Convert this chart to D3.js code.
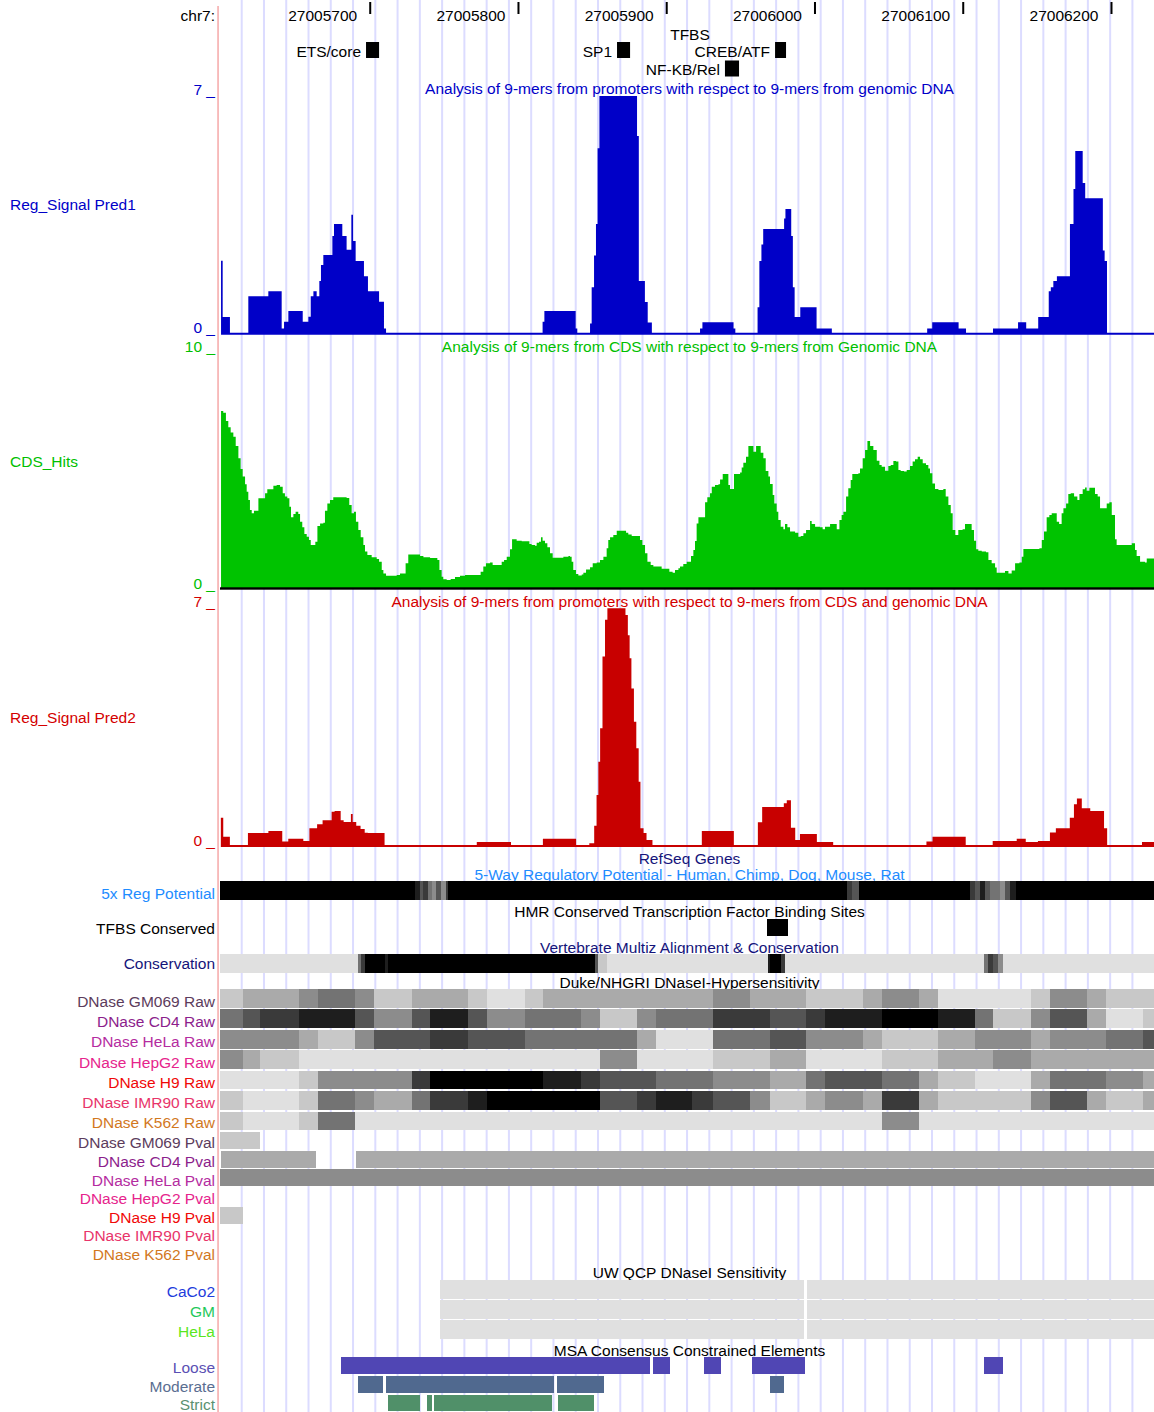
<!DOCTYPE html>
<html><head><meta charset="utf-8">
<script src="https://cdn.jsdelivr.net/npm/d3@7"></script>
<style>
body{margin:0;background:#fff}
svg text{font-family:"Liberation Sans",Arial,Helvetica,sans-serif;font-size:15.5px}
</style>
</head><body>
<svg id="c" width="1154" height="1412"></svg>
<script>
// ---------------- DATA ----------------
const chromName = "chr7";
const viewStart = 27005598, viewEnd = 27006228;          // genomic window
const rulerTicks = [27005700, 27005800, 27005900, 27006000, 27006100, 27006200];
const guideFirst = 14.64, guideStep = 15.02;              // bp offsets of guide lines

// TFBS track (offsets from viewStart, bp)
const tfbsNames = ["ETS/core", "SP1", "CREB/ATF", "NF-KB/Rel"];
const tfbsStart = [98.5, 267.8, 374.4, 340.6];
const tfbsEnd   = [107.3, 276.6, 381.8, 350.1];
const tfbsRow   = [0, 0, 0, 1];

// Wiggle tracks: [offset, value] steps
const pred1Steps = [[0.7,2.15],[1.8,0.49],[6.7,0],[19.1,1.1],[32.6,1.25],[41.6,0.15],[43.2,0.35],[46.1,0.67],[55.8,0.35],[59.6,0.5],[61.2,1.1],[63.0,1.25],[65.2,1.1],[67.0,1.55],[68.1,2.02],[69.7,2.32],[75.8,2.88],[76.9,3.23],[82.5,2.88],[85.4,2.47],[88.6,3.5],[89.7,2.73],[91.5,2.14],[97.1,1.69],[99.8,1.25],[107.3,0.94],[110.6,0.15],[112.0,0],[217.6,0.35],[218.8,0.67],[239.9,0.15],[241.0,0],[249.6,0.3],[250.7,1.37],[252.3,2.3],[253.6,3.23],[254.7,5.46],[255.9,7],[281.3,5.82],[282.5,1.55],[286.6,0.93],[288.5,0.33],[291.3,0],[323.8,0.15],[325.4,0.34],[346.4,0.15],[347.6,0],[362.6,0.78],[363.8,2.14],[365.2,2.63],[366.4,3.08],[380.5,3.39],[381.4,3.67],[385.3,2.88],[386.4,1.37],[387.6,0.49],[391.4,0.78],[402.4,0.15],[412.7,0],[477.0,0.15],[480.4,0.34],[498.2,0.15],[503.2,0],[521.4,0.15],[538.3,0.34],[543.8,0.15],[551.9,0.49],[559.0,1.25],[560.4,1.37],[562.1,1.55],[564.5,1.69],[573.3,3.23],[575.7,4.26],[576.9,5.38],[581.9,4.44],[583.6,3.99],[595.5,2.45],[596.7,2.14],[598.3,0],[630,0]];

const cdsSteps = [[0.7,7.53],[2.2,7.46],[4.0,7.11],[5.6,6.84],[7.2,6.62],[9.0,6.44],[10.6,6.04],[12.4,5.52],[13.9,5.06],[15.3,4.74],[16.9,4.41],[18.0,4.10],[19.1,3.74],[20.2,3.32],[21.4,3.18],[22.9,3.29],[25.9,3.82],[30.4,4.03],[31.9,4.20],[36.0,4.35],[38.2,4.38],[40.5,4.31],[42.3,4.03],[43.8,3.89],[45.4,3.82],[46.8,3.46],[47.9,3.01],[49.5,3.15],[51.0,3.25],[52.8,3.15],[54.0,2.82],[55.5,2.58],[56.9,2.30],[58.5,2.18],[60.0,2.04],[61.2,1.83],[64.3,1.97],[65.7,2.64],[67.5,2.75],[69.7,2.78],[70.8,3.29],[72.4,3.60],[74.2,3.74],[76.4,3.86],[85.4,3.83],[87.2,3.53],[88.8,3.18],[90.4,3.25],[91.7,2.82],[93.3,2.47],[94.9,2.16],[96.7,1.83],[97.8,1.55],[99.4,1.40],[102.3,1.31],[105.7,1.23],[107.3,1.12],[109.1,0.77],[110.2,0.62],[112.0,0.52],[119.2,0.55],[121.4,0.62],[125.2,1.05],[127.0,1.43],[134.9,1.36],[137.2,1.31],[141.7,1.28],[146.6,1.19],[148.0,0.77],[149.5,0.48],[150.6,0.37],[152.9,0.34],[155.6,0.38],[158.5,0.47],[161.9,0.52],[165.3,0.55],[175.8,0.69],[177.6,0.91],[179.4,1.05],[182.1,1.08],[183.9,0.98],[190.0,1.12],[191.6,1.19],[193.4,1.33],[195.6,1.65],[197.0,2.07],[200.1,2.01],[203.5,1.99],[208.7,1.87],[210.2,1.83],[212.5,1.80],[213.6,1.93],[215.2,1.97],[216.5,2.16],[217.6,2.01],[219.2,1.90],[220.8,1.73],[222.6,1.48],[224.4,1.29],[231.6,1.33],[235.0,1.36],[236.1,1.33],[237.2,1.12],[238.3,0.77],[240.1,0.60],[241.7,0.53],[244.0,0.57],[245.1,0.65],[246.9,0.79],[249.6,0.88],[251.4,1.05],[254.1,1.08],[256.3,1.19],[258.6,1.33],[260.8,1.69],[261.9,2.04],[263.1,2.16],[265.3,2.26],[267.6,2.44],[273.9,2.35],[275.4,2.28],[277.7,2.21],[283.3,2.04],[284.9,1.83],[286.7,1.48],[288.3,1.12],[290.5,0.98],[292.3,0.91],[297.9,0.82],[303.1,0.69],[305.3,0.65],[306.9,0.77],[309.2,0.84],[310.3,0.91],[312.5,1.02],[314.8,1.12],[317.7,1.36],[319.3,1.62],[320.4,2.00],[321.5,2.75],[322.7,3.01],[327.2,3.65],[328.7,3.86],[330.5,4.03],[331.7,4.31],[333.9,4.38],[336.2,4.41],[337.3,4.62],[339.1,4.85],[342.9,4.38],[344.0,4.21],[346.7,4.85],[350.8,4.91],[351.9,5.13],[353.0,5.33],[354.8,5.59],[356.4,6.04],[359.8,5.80],[361.6,6.04],[364.7,5.76],[366.5,5.52],[368.1,4.98],[369.9,4.74],[371.0,4.43],[372.8,3.96],[373.9,3.60],[375.5,3.25],[376.6,2.89],[378.2,2.61],[380.0,2.50],[381.1,2.72],[382.7,2.58],[384.5,2.40],[387.9,2.35],[390.1,2.18],[391.7,2.21],[393.5,2.33],[395.3,2.47],[398.0,2.85],[399.1,2.72],[401.4,2.61],[404.7,2.58],[406.5,2.50],[408.1,2.61],[411.5,2.72],[416.0,2.50],[417.8,2.89],[419.3,3.11],[420.5,3.25],[422.3,3.89],[423.8,4.24],[425.4,4.60],[426.5,4.85],[430.6,4.88],[431.7,5.09],[433.5,5.52],[435.1,5.87],[436.7,6.26],[438.5,6.04],[440.7,5.87],[443.0,5.42],[444.8,5.23],[446.3,5.16],[448.6,4.99],[450.8,5.19],[452.4,5.23],[454.2,5.40],[456.0,5.38],[457.6,5.02],[459.1,4.98],[461.4,4.96],[463.2,5.02],[465.4,5.19],[467.2,5.38],[468.8,5.48],[470.6,5.59],[472.2,5.48],[474.0,5.31],[476.2,5.23],[477.8,5.09],[478.9,4.88],[480.5,4.45],[482.3,4.21],[484.6,4.17],[487.9,4.21],[489.5,3.89],[491.3,3.53],[492.9,3.18],[494.2,2.47],[496.0,2.26],[498.0,2.47],[500.9,2.50],[502.5,2.72],[507.0,2.47],[508.6,2.01],[510.0,1.65],[511.5,1.59],[513.8,1.55],[516.7,1.52],[518.3,1.19],[520.5,1.05],[522.8,0.87],[523.9,0.65],[529.5,0.72],[531.8,0.62],[534.0,0.74],[536.3,1.05],[539.2,1.08],[540.8,1.33],[541.9,1.66],[552.7,1.69],[554.3,2.04],[555.8,2.40],[557.6,3.01],[559.4,3.11],[561.0,3.18],[564.4,2.82],[566.0,2.72],[567.7,3.18],[568.9,3.39],[570.7,3.60],[572.2,4.00],[573.8,4.03],[576.1,3.89],[578.3,3.74],[579.7,4.00],[581.9,4.20],[583.5,4.28],[584.6,4.14],[586.4,4.27],[590.2,4.00],[592.0,3.89],[593.6,3.39],[598.1,3.60],[599.9,3.65],[601.5,3.11],[603.7,2.07],[604.8,1.83],[615.0,1.90],[617.2,1.62],[618.3,1.36],[620.6,1.12],[623.9,1.08],[625.1,1.26],[630,1.26]];

const pred2Steps = [[0.57,0.83],[2.19,0.27],[6.66,0],[18.84,0.38],[32.65,0.44],[41.99,0.13],[46.05,0.21],[56.2,0.15],[60.3,0.52],[65.5,0.64],[69.2,0.76],[75.3,1.01],[77.3,1.03],[81.4,0.76],[83.4,0.71],[88.3,0.94],[89.5,0.71],[91.9,0.60],[94.8,0.50],[97.6,0.39],[99.7,0.38],[111.0,0],[173.2,0.12],[196.3,0],[217.8,0.21],[240.2,0],[249.1,0.08],[252.4,0.60],[254.0,1.5],[255.2,2.48],[256.4,3.47],[258.0,5.58],[259.7,6.66],[261.3,7],[273.5,6.80],[275.1,6.21],[276.3,5.53],[277.5,4.64],[279.2,3.66],[280.8,2.88],[282.4,1.89],[283.6,0.52],[285.7,0.38],[287.7,0.18],[291.7,0],[325.0,0.44],[346.6,0],[362.8,0.70],[365.7,1.15],[380.3,1.26],[382.3,1.35],[385.1,0.54],[388.0,0.18],[391.2,0.35],[402.6,0.12],[413.6,0],[476.5,0.13],[480.6,0.27],[503.0,0],[521.2,0.15],[537.4,0.21],[543.5,0.12],[551.7,0.15],[559.8,0.40],[563.8,0.52],[573.2,0.83],[576.0,1.23],[578.0,1.40],[581.3,1.11],[587.0,1.03],[596.3,0.52],[598.4,0],[621.9,0.12],[630,0.12]];

// Density tracks: [start, end, level 1..9]
const regPotSegs = [[0,131.5,9],[131.5,134.9,8],[134.9,136.9,6],[136.9,140.3,7],[140.3,143.0,5],[143.0,145.7,4],[145.7,149.1,6],[149.1,152.4,4],[152.4,153.8,7],[153.8,422.9,9],[422.9,426.3,7],[426.3,431.0,6],[431.0,505.9,9],[505.9,509.3,7],[509.3,512.6,6],[512.6,516.0,8],[516.0,519.4,6],[519.4,526.1,5],[526.1,529.5,4],[529.5,532.9,6],[532.9,536.9,8],[536.9,630,9]];
const hmrTfbs = [[369.0, 383.1]];
const consSegs = [[0,93.1,1],[93.1,95.1,5],[95.1,97.8,7],[97.8,111.3,9],[111.3,113.3,8],[113.3,252.9,9],[252.9,255.0,6],[255.0,261.0,2],[261.0,369.6,1],[369.6,371.0,8],[371.0,378.4,9],[378.4,381.0,7],[381.0,515.3,1],[515.3,518.0,5],[518.0,521.4,7],[521.4,524.8,6],[524.8,528.2,4],[528.2,630,1]];

// Duke DNase raw: common window bounds + level per window
const dnaseBounds = [0,15.3,27.0,53.3,66.1,91.1,103.9,129.5,141.7,167.3,180.1,205.7,217.9,243.5,256.3,281.3,294.1,318.4,332.5,357.5,371.0,395.3,408.1,433.7,446.5,471.5,484.3,509.3,521.4,547.0,559.9,584.8,597.6,622.6,630];
const dnaseRawNames = ["DNase GM069 Raw","DNase CD4 Raw","DNase HeLa Raw","DNase HepG2 Raw","DNase H9 Raw","DNase IMR90 Raw","DNase K562 Raw"];
const rawGM069 = [2,3,3,4,5,4,2,3,3,2,1,2,3,3,3,3,3,3,4,3,3,2,2,3,4,3,1,1,1,2,4,3,2,2];
const rawCD4   = [5,6,7,8,8,6,4,6,8,6,4,5,5,4,2,4,5,5,7,7,6,7,8,8,9,9,8,5,2,4,6,3,1,2];
const rawHeLa  = [4,4,4,3,2,4,6,6,7,6,6,5,5,5,5,3,1,1,5,5,6,4,4,3,2,2,3,4,4,3,4,4,5,6];
const rawHepG2 = [4,3,2,1,1,1,1,1,1,1,1,1,1,1,4,1,1,1,2,2,3,1,1,1,2,2,3,3,4,3,3,3,3,3];
const rawH9    = [1,1,1,2,4,4,4,7,9,9,9,9,8,7,6,6,5,5,4,4,3,5,6,6,5,3,2,1,1,3,5,5,4,3];
const rawIMR90 = [2,1,1,2,5,4,3,5,7,8,9,9,9,9,6,7,8,7,6,4,2,3,4,3,7,3,2,2,2,4,6,3,2,3];
const rawK562  = [2,1,1,2,5,1,1,1,1,1,1,1,1,1,1,1,1,1,1,1,1,1,1,1,4,1,1,1,1,1,1,1,1,1];
const dnasePvalNames = ["DNase GM069 Pval","DNase CD4 Pval","DNase HeLa Pval","DNase HepG2 Pval","DNase H9 Pval","DNase IMR90 Pval","DNase K562 Pval"];
const pvalGM069 = [[0,27.0,2]];
const pvalCD4   = [[0.7,64.8,3],[91.7,630,3]];
const pvalHeLa  = [[0,630,4]];
const pvalHepG2 = [];
const pvalH9    = [[0,15.3,2]];
const pvalIMR90 = [];
const pvalK562  = [];

// UW QCP DNaseI sensitivity
const uwNames = ["CaCo2","GM","HeLa"];
const uwCaCo2 = [[148.4,393.9],[395.9,630]];
const uwGM    = [[148.4,393.9],[395.9,630]];
const uwHeLa  = [[148.4,393.9],[395.9,630]];

// MSA consensus constrained elements
const msaNames = ["Loose","Moderate","Strict"];
const msaLoose    = [[81.6,290.0],[292.1,303.5],[326.5,338.0],[358.9,394.6],[515.3,528.2]];
const msaModerate = [[93.1,110.0],[112.0,225.3],[227.3,259.0],[371.0,380.4]];
const msaStrict   = [[113.3,134.9],[139.6,143.0],[144.4,223.9],[228.0,252.3]];

// ---------------- DRAW ----------------
const W = 1154, H = 1412, X0 = 220, X1 = 1154, LABEL_R = 215, TITLE_X = 689.5;
const svg = d3.select("#c");
const x = d3.scaleLinear().domain([viewStart, viewEnd]).range([X0, X1]);
const xo = o => x(viewStart + o);
const greys = ["#e0e0e0","#c8c8c8","#aaaaaa","#8c8c8c","#737373","#555555","#3a3a3a","#1e1e1e","#000000"];
const shade = d3.scaleOrdinal().domain(d3.range(1,10)).range(greys);

// guide lines
const guides = d3.range(guideFirst, viewEnd - viewStart, guideStep);
svg.append("g").selectAll("rect").data(guides).join("rect")
  .attr("x", d => xo(d) - 1).attr("y", 0).attr("width", 2).attr("height", H)
  .attr("fill", "#dcdcff");
// pink separator
svg.append("rect").attr("x", 217.3).attr("y", 6).attr("width", 1.5).attr("height", H).attr("fill", "#f5a8a8");

function txt(t, xx, yy, color, anchor) {
  return svg.append("text").attr("x", xx).attr("y", yy).attr("fill", color || "#000")
    .attr("text-anchor", anchor || "start").text(t);
}

// ruler
txt(chromName + ":", LABEL_R, 20.5, "#000", "end");
const rg = svg.append("g");
rg.selectAll("rect").data(rulerTicks).join("rect")
  .attr("x", d => x(d) - 2).attr("y", 2).attr("width", 2).attr("height", 12).attr("fill", "#000");
rg.selectAll("text").data(rulerTicks).join("text")
  .attr("x", d => x(d) - 14).attr("y", 20.5).attr("text-anchor", "end").attr("fill", "#000").text(d => d);

// TFBS
txt("TFBS", 690, 40, "#000", "middle");
const tfbs = tfbsNames.map((n, i) => ({n, s: tfbsStart[i], e: tfbsEnd[i], r: tfbsRow[i]}));
svg.append("g").selectAll("rect").data(tfbs).join("rect")
  .attr("x", d => xo(d.s)).attr("width", d => xo(d.e) - xo(d.s))
  .attr("y", d => 42 + d.r * 18.5).attr("height", 16).attr("fill", "#000");
svg.append("g").selectAll("text").data(tfbs).join("text")
  .attr("x", d => xo(d.s) - 5).attr("y", d => 56.5 + d.r * 18.5)
  .attr("text-anchor", "end").attr("fill", "#000").text(d => d.n);

// wiggle helper
function wiggle(steps, yScale, fill, lineW) {
  const area = d3.area().curve(d3.curveStepAfter)
    .x(d => xo(d[0])).y0(yScale(0) + lineW / 2).y1(d => Math.min(yScale(d[1]), yScale(0) - lineW / 2));
  svg.append("path").datum([[steps[0][0], 0]].concat(steps)).attr("d", area).attr("fill", fill);
}

// Pred1 (blue)
const BLUE = "#0000c8";
const y1 = d3.scaleLinear().domain([0, 7]).range([333.7, 96]);
wiggle(pred1Steps, y1, BLUE, 2);
txt("Analysis of 9-mers from promoters with respect to 9-mers from genomic DNA", TITLE_X, 93.5, BLUE, "middle");
txt("7 _", LABEL_R, 95, BLUE, "end");
txt("0 _", LABEL_R, 332.5, BLUE, "end");
txt("Reg_Signal Pred1", 10, 209.5, BLUE);

// CDS (green)
const GREEN = "#00c300";
const y2 = d3.scaleLinear().domain([0, 10]).range([588, 353]);
wiggle(cdsSteps, y2, GREEN, 0);
svg.append("rect").attr("x", X0).attr("y", 587.3).attr("width", X1 - X0).attr("height", 2.4).attr("fill", "#000");
txt("Analysis of 9-mers from CDS with respect to 9-mers from Genomic DNA", TITLE_X, 351.5, "#00c000", "middle");
txt("10 _", LABEL_R, 352, "#00c000", "end");
txt("0 _", LABEL_R, 589, "#00c000", "end");
txt("CDS_Hits", 10, 466.5, "#00c000");

// Pred2 (red)
const RED = "#c80000";
const y3 = d3.scaleLinear().domain([0, 7]).range([846, 608.3]);
wiggle(pred2Steps, y3, RED, 2);
txt("Analysis of 9-mers from promoters with respect to 9-mers from CDS and genomic DNA", TITLE_X, 606.5, "#d40000", "middle");
txt("7 _", LABEL_R, 606.5, "#d40000", "end");
txt("0 _", LABEL_R, 845.5, "#d40000", "end");
txt("Reg_Signal Pred2", 10, 722.5, "#d40000");

// segment helper
function segs(data, top, h, colorFn) {
  svg.append("g").attr("shape-rendering", "crispEdges").selectAll("rect").data(data).join("rect")
    .attr("x", d => xo(d[0])).attr("width", d => Math.max(0.5, xo(d[1]) - xo(d[0])))
    .attr("y", top).attr("height", h).attr("fill", colorFn);
}

// RefSeq + 5x reg potential
const NAVY = "#14147a";
txt("RefSeq Genes", TITLE_X, 864, NAVY, "middle");
const REGBLUE = "#1e8cff";
txt("5-Way Regulatory Potential - Human, Chimp, Dog, Mouse, Rat", TITLE_X, 879.5, REGBLUE, "middle");
segs(regPotSegs, 881, 18.5, d => shade(d[2]));
txt("5x Reg Potential", LABEL_R, 899, REGBLUE, "end");

// HMR TFBS
txt("HMR Conserved Transcription Factor Binding Sites", TITLE_X, 916.7, "#000", "middle");
segs(hmrTfbs, 919, 17, "#000");
txt("TFBS Conserved", LABEL_R, 934, "#000", "end");

// Conservation
txt("Vertebrate Multiz Alignment & Conservation", TITLE_X, 952.5, NAVY, "middle");
segs(consSegs, 954, 18.5, d => shade(d[2]));
txt("Conservation", LABEL_R, 969, NAVY, "end");

// Duke DNase
txt("Duke/NHGRI DNaseI-Hypersensitivity", TITLE_X, 987.8, "#000", "middle");
const dnaseColors = ["#5c3c5c","#8c1e8c","#b42ca0","#e6248c","#f00808","#e8346a","#d2781e"];
const rawRows = [rawGM069, rawCD4, rawHeLa, rawHepG2, rawH9, rawIMR90, rawK562];
rawRows.forEach((lv, i) => {
  const data = lv.map((l, k) => [dnaseBounds[k], dnaseBounds[k + 1], l]);
  segs(data, 989 + i * 20.45, 18.6, d => shade(d[2]));
  txt(dnaseRawNames[i], LABEL_R, 1006.7 + i * 20.27, dnaseColors[i], "end");
});
const pvalRows = [pvalGM069, pvalCD4, pvalHeLa, pvalHepG2, pvalH9, pvalIMR90, pvalK562];
pvalRows.forEach((d, i) => {
  segs(d, 1131.7 + i * 18.8, 17, s => shade(s[2]));
  txt(dnasePvalNames[i], LABEL_R, 1148.3 + i * 18.6, dnaseColors[i], "end");
});

// UW QCP
txt("UW QCP DNaseI Sensitivity", TITLE_X, 1277.8, "#000", "middle");
const uwColors = ["#1e3cdc","#1ec85a","#5ae61e"];
[uwCaCo2, uwGM, uwHeLa].forEach((d, i) => {
  segs(d, 1279.5 + i * 20, 19, "#e0e0e0");
  txt(uwNames[i], LABEL_R, 1296.5 + i * 20.1, uwColors[i], "end");
});

// MSA
txt("MSA Consensus Constrained Elements", TITLE_X, 1355.8, "#000", "middle");
const msaColors = ["#5046b4","#50698f","#509069"];
const msaLabelColors = ["#5a50b4","#5a6e91","#5a9170"];
[msaLoose, msaModerate, msaStrict].forEach((d, i) => {
  segs(d, 1357.3 + i * 18.7, 16.5, msaColors[i]);
  txt(msaNames[i], LABEL_R, 1373.3 + i * 18.35, msaLabelColors[i], "end");
});
</script>
</body></html>
